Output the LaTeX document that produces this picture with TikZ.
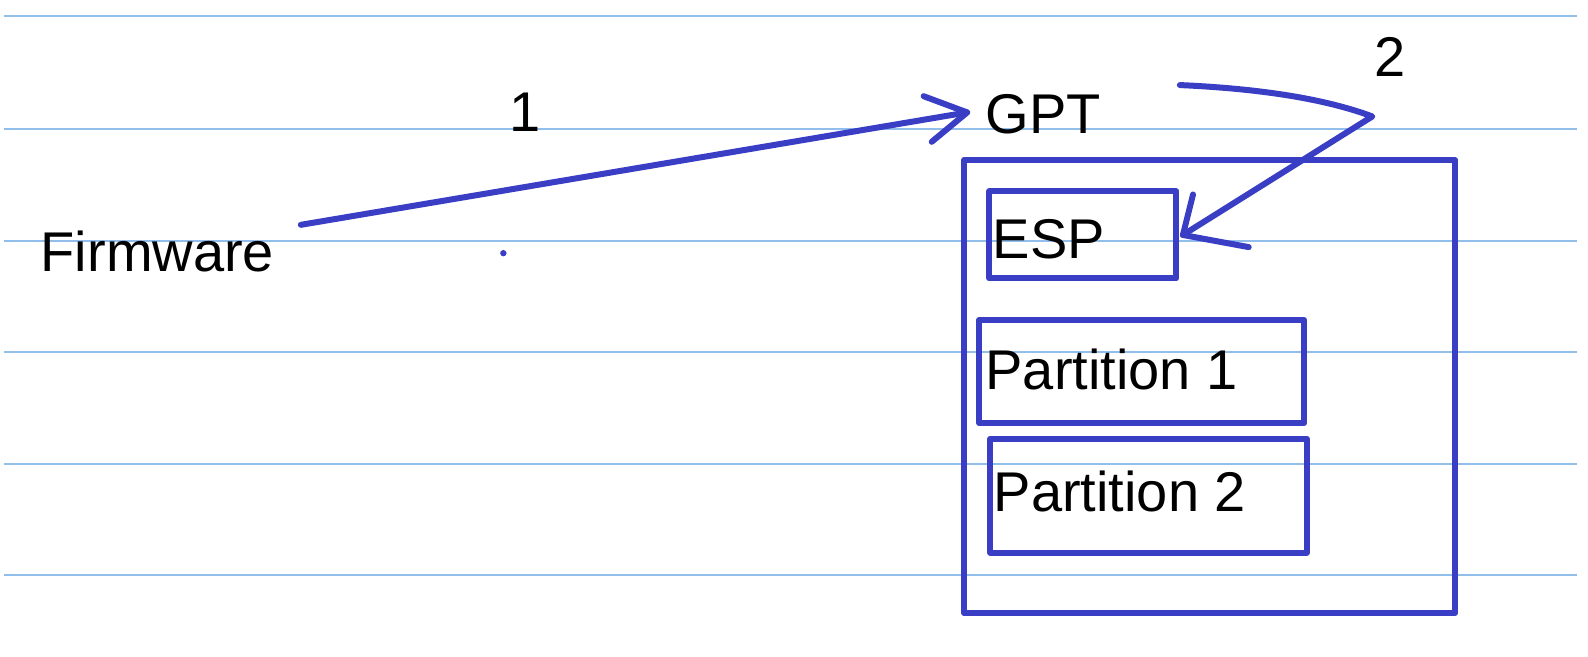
\documentclass[tikz,border=0pt]{standalone}
\usepackage{fontspec}
\setmainfont{Liberation Sans}
\usetikzlibrary{calc}
\definecolor{ink}{RGB}{58,62,196}
\definecolor{rule}{RGB}{146,190,236}
\begin{document}
\begin{tikzpicture}[x=1.0127pt,y=-1.0127pt,
  lbl/.style={inner sep=0pt,anchor=base west,font=\fontsize{56}{62}\selectfont,text=black},
  pen/.style={draw=ink,line width=6pt,line cap=round,line join=round},
  boxn/.style={pen,rectangle,inner sep=0pt,outer sep=0pt,anchor=north west},
  ruling/.style={draw=rule,line width=2pt}]
\useasboundingbox[fill=white] (0,0) rectangle (1568,647.8);
% ruled paper
\foreach \yy in {16,127,238,348,458,568}
  \draw[ruling] (4,\yy) -- (1557,\yy);
% boxes
\node[boxn,minimum width=491pt,minimum height=453pt] (disk) at (952,158) {};
\node[boxn,minimum width=187pt,minimum height=87pt] (espbox) at (977,189) {};
\node[boxn,minimum width=325pt,minimum height=103pt] (p1box) at (967,316) {};
\node[boxn,minimum width=316pt,minimum height=114pt] (p2box) at (978,433) {};
% labels
\node[lbl] (fw) at (40,268) {Firmware};
\node[lbl] (one) at (503,130) {1};
\node[lbl] (gpt) at (973,132) {GPT};
\node[lbl] (two) at (1357,76) {2};
\node[lbl] (esp) at (980,255) {ESP};
\node[lbl] (p1) at (973,385) {Partition 1};
\node[lbl] (p2) at (981,505) {Partition 2};
% stray dot
\fill[ink] (497,250) circle (3.2pt);
% arrow 1: Firmware -> GPT
\coordinate (a1s) at (297,222);
\coordinate (a1e) at (955,111);
\draw[pen] (a1s) -- (a1e);
\draw[pen] ($(a1e)+(-43,-16)$) -- (a1e) -- ($(a1e)+(-35,29)$);
% arrow 2: GPT -> ESP
\coordinate (a2s) at (1165,84);
\coordinate (a2k) at (1355,115);
\coordinate (a2e) at (1168,232);
\draw[pen] (a2s) .. controls (1255,88) and (1315,100) .. (a2k) -- (a2e);
\draw[pen] ($(a2e)+(10,-40)$) -- (a2e) -- ($(a2e)+(65,12)$);
\end{tikzpicture}
\end{document}
